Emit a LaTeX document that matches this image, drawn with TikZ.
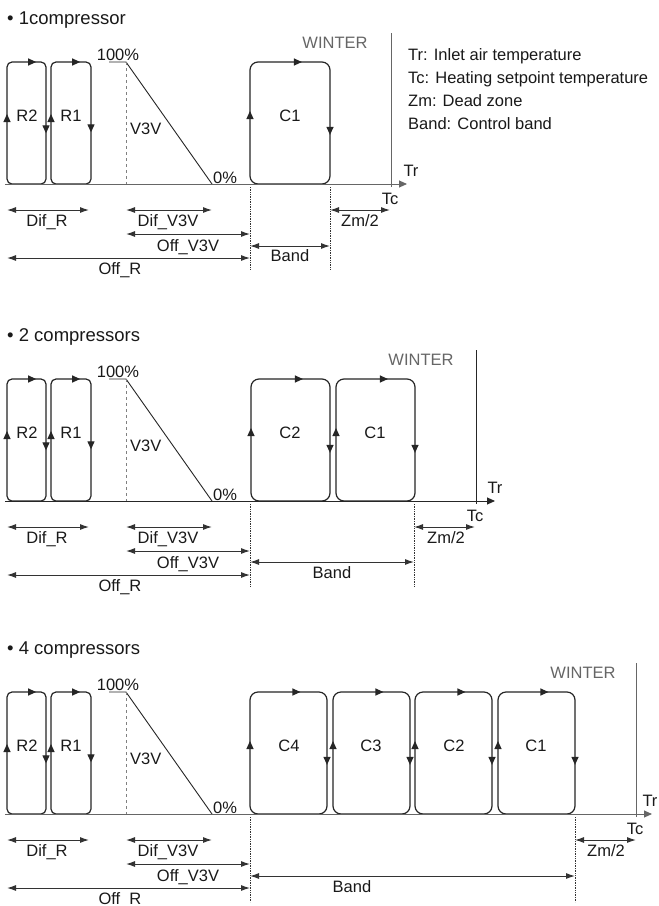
\documentclass[tikz,border=0pt]{standalone}
\usepackage{fontspec}
\setmainfont{Liberation Sans}
\usepackage{tikz}
\usetikzlibrary{arrows.meta}
\usetikzlibrary{decorations.markings}

\begin{document}
\begin{tikzpicture}[x=1pt, y=-1pt, font=\fontsize{16.5}{19}\selectfont, text=black!90,
    txt/.style={inner sep=0pt, anchor=base},
    ttl/.style={inner sep=0pt, anchor=base west, font=\fontsize{18.5}{21}\selectfont},
    rbox/.style={draw=black!85, line width=1.2pt, rounded corners=5pt, postaction={decorate},
        decoration={markings,
        mark=at position 4pt with {\arrow{Triangle[length=8pt,width=7pt]}},
        mark=at position 83pt with {\arrow{Triangle[length=8pt,width=7pt]}},
        mark=at position 162pt with {\arrow{Triangle[length=8pt,width=7pt]}}}},
    cbox/.style={draw=black!85, line width=1.2pt, rounded corners=8pt, postaction={decorate},
        decoration={markings,
        mark=at position 4pt with {\arrow{Triangle[length=8pt,width=7pt]}},
        mark=at position 101.5pt with {\arrow{Triangle[length=8pt,width=7pt]}},
        mark=at position 199pt with {\arrow{Triangle[length=8pt,width=7pt]}}}},
    cboxs/.style={draw=black!85, line width=1.2pt, rounded corners=8pt, postaction={decorate},
        decoration={markings,
        mark=at position 4pt with {\arrow{Triangle[length=8pt,width=7pt]}},
        mark=at position 100pt with {\arrow{Triangle[length=8pt,width=7pt]}},
        mark=at position 196pt with {\arrow{Triangle[length=8pt,width=7pt]}}}},
    dim/.style={draw=black!80, line width=1pt,
        arrows={Latex[length=9pt,width=6pt]-Latex[length=9pt,width=6pt]}},
    guide/.style={draw=black!80, densely dotted, line width=0.7pt},
    axis/.style={draw=black!60, line width=0.9pt, -{Triangle[length=8pt,width=7pt]}},
    tcline/.style={draw=black!60, line width=0.9pt}]

\useasboundingbox[fill=white] (0,0) rectangle (659,906);

% 1 compressor
\node[ttl] (atitle) at (7,24) {• 1compressor};
\draw[rbox] (7,123) -- (7,62) -- (46,62) -- (46,184) -- (7,184) -- cycle;
\draw[rbox] (51,123) -- (51,62) -- (91,62) -- (91,184) -- (51,184) -- cycle;
\node[txt] (ar2) at (27,121) {R2};
\node[txt] (ar1) at (71,121) {R1};
\coordinate (avtop) at (109,62);
\coordinate (avknee) at (126,62);
\coordinate (avbase) at (126,184);
\coordinate (avzero) at (212,184);
\draw[line width=0.9pt, black!85] (avtop) -- (avknee) -- (avzero);
\draw[gray, dashed, line width=0.8pt] (avknee) -- (avbase);
\node[txt] (afull) at (118,60) {100\%};
\node[txt, anchor=base west] (av3v) at (130,134) {V3V};
\node[txt, anchor=base west] (anull) at (213,183) {0\%};
\draw[cbox] (250,123) -- (250,62) -- (330,62) -- (330,184) -- (250,184) -- cycle;
\node[txt] (ac1) at (290,121) {C1};
\coordinate (aorig) at (5,184);
\coordinate (atip) at (407,184);
\coordinate (atctop) at (391,33);
\coordinate (atcbot) at (391,187);
\draw[axis] (aorig) -- (atip);
\draw[tcline] (atctop) -- (atcbot);
\node[txt, text=black!60] (awinter) at (335,48) {WINTER};
\node[txt] (atr) at (411,176) {Tr};
\node[txt] (atc) at (390,204) {Tc};
\node[txt, anchor=base west] (aleg1) at (408,60) {Tr: Inlet air temperature};
\node[txt, anchor=base west] (aleg2) at (408,83) {Tc: Heating setpoint temperature};
\node[txt, anchor=base west] (aleg3) at (408,106) {Zm: Dead zone};
\node[txt, anchor=base west] (aleg4) at (408,129) {Band: Control band};
\coordinate (ad1) at (7,210);
\coordinate (ad2) at (89,210);
\coordinate (ad3) at (126,210);
\coordinate (ad4) at (212,210);
\coordinate (ao1) at (126,234);
\coordinate (ao2) at (250,234);
\coordinate (ao3) at (7,258);
\coordinate (ao4) at (250,258);
\coordinate (ab1) at (250,246);
\coordinate (ab2) at (330,246);
\coordinate (az1) at (330,210);
\coordinate (az2) at (390,210);
\coordinate (ag1) at (250,187);
\coordinate (ag2) at (250,270);
\coordinate (ag3) at (330,187);
\coordinate (ag4) at (330,270);
\draw[guide] (ag1) -- (ag2);
\draw[guide] (ag3) -- (ag4);
\draw[dim] (ad1) -- (ad2);
\draw[dim] (ad3) -- (ad4);
\draw[dim] (ao1) -- (ao2);
\draw[dim] (ao3) -- (ao4);
\draw[dim] (ab1) -- (ab2);
\draw[dim] (az1) -- (az2);
\node[txt] (adifr) at (47,226) {Dif\_R};
\node[txt] (adifv) at (168,226) {Dif\_V3V};
\node[txt] (aoffv) at (188,251) {Off\_V3V};
\node[txt] (aoffr) at (120,274) {Off\_R};
\node[txt] (aband) at (290,261) {Band};
\node[txt] (azm) at (360,226) {Zm/2};

% 2 compressors
\begin{scope}[yshift=-317pt]
\node[ttl] (btitle) at (7,24) {• 2 compressors};
\draw[rbox] (7,123) -- (7,62) -- (46,62) -- (46,184) -- (7,184) -- cycle;
\draw[rbox] (51,123) -- (51,62) -- (91,62) -- (91,184) -- (51,184) -- cycle;
\node[txt] (br2) at (27,121) {R2};
\node[txt] (br1) at (71,121) {R1};
\coordinate (bvtop) at (109,62);
\coordinate (bvknee) at (126,62);
\coordinate (bvbase) at (126,184);
\coordinate (bvzero) at (212,184);
\draw[line width=0.9pt, black!85] (bvtop) -- (bvknee) -- (bvzero);
\draw[gray, dashed, line width=0.8pt] (bvknee) -- (bvbase);
\node[txt] (bfull) at (118,60) {100\%};
\node[txt, anchor=base west] (bv3v) at (130,134) {V3V};
\node[txt, anchor=base west] (bnull) at (213,183) {0\%};
\draw[cbox] (251,123) -- (251,62) -- (330,62) -- (330,184) -- (251,184) -- cycle;
\draw[cbox] (336,123) -- (336,62) -- (415,62) -- (415,184) -- (336,184) -- cycle;
\node[txt] (bc2) at (290,121) {C2};
\node[txt] (bc1) at (375,121) {C1};
\coordinate (borig) at (5,184);
\coordinate (btip) at (495,184);
\coordinate (btctop) at (476,33);
\coordinate (btcbot) at (476,187);
\draw[axis, draw=black!85] (borig) -- (btip);
\draw[tcline, draw=black!85] (btctop) -- (btcbot);
\node[txt, text=black!60] (bwinter) at (421,48) {WINTER};
\node[txt] (btr) at (495,176) {Tr};
\node[txt] (btc) at (475,204) {Tc};
\coordinate (bd1) at (7,210);
\coordinate (bd2) at (89,210);
\coordinate (bd3) at (126,210);
\coordinate (bd4) at (212,210);
\coordinate (bo1) at (126,234);
\coordinate (bo2) at (250,234);
\coordinate (bo3) at (7,258);
\coordinate (bo4) at (250,258);
\coordinate (bb1) at (250,245);
\coordinate (bb2) at (414,245);
\coordinate (bz1) at (414,210);
\coordinate (bz2) at (475,210);
\coordinate (bg1) at (250,187);
\coordinate (bg2) at (250,270);
\coordinate (bg3) at (414,187);
\coordinate (bg4) at (414,270);
\draw[guide] (bg1) -- (bg2);
\draw[guide] (bg3) -- (bg4);
\draw[dim] (bd1) -- (bd2);
\draw[dim] (bd3) -- (bd4);
\draw[dim] (bo1) -- (bo2);
\draw[dim] (bo3) -- (bo4);
\draw[dim] (bb1) -- (bb2);
\draw[dim] (bz1) -- (bz2);
\node[txt] (bdifr) at (47,226) {Dif\_R};
\node[txt] (bdifv) at (168,226) {Dif\_V3V};
\node[txt] (boffv) at (188,251) {Off\_V3V};
\node[txt] (boffr) at (120,274) {Off\_R};
\node[txt] (bband) at (332,261) {Band};
\node[txt] (bzm) at (446,226) {Zm/2};
\end{scope}

% 4 compressors
\begin{scope}[yshift=-630pt]
\node[ttl] (ctitle) at (7,24) {• 4 compressors};
\draw[rbox] (7,123) -- (7,62) -- (46,62) -- (46,184) -- (7,184) -- cycle;
\draw[rbox] (51,123) -- (51,62) -- (91,62) -- (91,184) -- (51,184) -- cycle;
\node[txt] (cr2) at (27,121) {R2};
\node[txt] (cr1) at (71,121) {R1};
\coordinate (cvtop) at (109,62);
\coordinate (cvknee) at (126,62);
\coordinate (cvbase) at (126,184);
\coordinate (cvzero) at (212,184);
\draw[line width=0.9pt, black!85] (cvtop) -- (cvknee) -- (cvzero);
\draw[gray, dashed, line width=0.8pt] (cvknee) -- (cvbase);
\node[txt] (cfull) at (118,60) {100\%};
\node[txt, anchor=base west] (cv3v) at (130,134) {V3V};
\node[txt, anchor=base west] (cnull) at (213,183) {0\%};
\draw[cboxs] (250,123) -- (250,62) -- (327,62) -- (327,184) -- (250,184) -- cycle;
\draw[cboxs] (333,123) -- (333,62) -- (410,62) -- (410,184) -- (333,184) -- cycle;
\draw[cboxs] (415,123) -- (415,62) -- (492,62) -- (492,184) -- (415,184) -- cycle;
\draw[cboxs] (498,123) -- (498,62) -- (575,62) -- (575,184) -- (498,184) -- cycle;
\node[txt] (cc4) at (289,121) {C4};
\node[txt] (cc3) at (371,121) {C3};
\node[txt] (cc2) at (454,121) {C2};
\node[txt] (cc1) at (536,121) {C1};
\coordinate (corig) at (5,184);
\coordinate (ctip) at (652,184);
\coordinate (cctop) at (636,33);
\coordinate (ccbot) at (636,187);
\draw[axis] (corig) -- (ctip);
\draw[tcline] (cctop) -- (ccbot);
\node[txt, text=black!60] (cwinter) at (583,48) {WINTER};
\node[txt] (ctr) at (650,176) {Tr};
\node[txt] (ctc) at (635,204) {Tc};
\coordinate (cd1) at (7,210);
\coordinate (cd2) at (89,210);
\coordinate (cd3) at (126,210);
\coordinate (cd4) at (212,210);
\coordinate (co1) at (126,234);
\coordinate (co2) at (250,234);
\coordinate (co3) at (7,258);
\coordinate (co4) at (250,258);
\coordinate (cb1) at (250,246);
\coordinate (cb2) at (575,246);
\coordinate (cz1) at (575,210);
\coordinate (cz2) at (636,210);
\coordinate (cg1) at (250,187);
\coordinate (cg2) at (250,272);
\coordinate (cg3) at (575,187);
\coordinate (cg4) at (575,272);
\draw[guide] (cg1) -- (cg2);
\draw[guide] (cg3) -- (cg4);
\draw[dim] (cd1) -- (cd2);
\draw[dim] (cd3) -- (cd4);
\draw[dim] (co1) -- (co2);
\draw[dim] (co3) -- (co4);
\draw[dim] (cb1) -- (cb2);
\draw[dim] (cz1) -- (cz2);
\node[txt] (cdifr) at (47,226) {Dif\_R};
\node[txt] (cdifv) at (168,226) {Dif\_V3V};
\node[txt] (coffv) at (188,251) {Off\_V3V};
\node[txt] (coffr) at (120,274) {Off\_R};
\node[txt] (cband) at (352,262) {Band};
\node[txt] (czm) at (606,226) {Zm/2};
\end{scope}
\end{tikzpicture}
\end{document}
